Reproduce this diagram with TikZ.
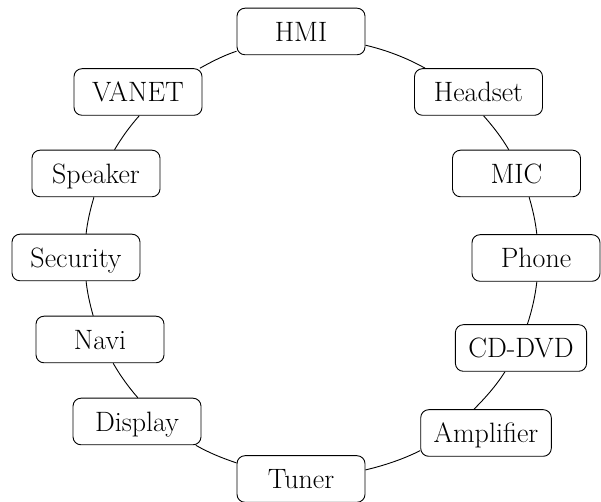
\documentclass[tikz,border=0pt]{standalone}
\begin{document}
\begin{tikzpicture}[x=1pt,y=1pt,
  box/.style={draw, rounded corners=8pt, fill=white, minimum width=128pt,
    minimum height=46.6pt, inner xsep=13pt, inner ysep=0pt,
    text height=19.1pt, text depth=0pt,
    font=\fontsize{28}{34}\selectfont, line width=0.9pt},
  link/.style={line width=0.9pt, looseness=0.85}]
\useasboundingbox (0,0) rectangle (601,502);
% nodes
\node[box] (hmi)      at (301,470.5) {HMI};
\node[box] (headset)  at (478.5,410) {Headset};
\node[box] (mic)      at (516.5,328.5) {MIC};
\node[box] (phone)    at (536,244) {Phone};
\node[box] (cddvd)    at (521,154) {CD-DVD};
\node[box] (amp)      at (486,69) {Amplifier};
\node[box] (tuner)    at (301,23) {Tuner};
\node[box] (display)  at (137,80.5) {Display};
\node[box] (navi)     at (100,162.5) {Navi};
\node[box] (security) at (76,244.5) {Security};
\node[box] (speaker)  at (96,328.5) {Speaker};
\node[box] (vanet)    at (138,410) {VANET};
% connectors around the ring
\draw[link] (hmi.-12) to[out=-13.3, in=150.6] (headset.156.3);
\draw[link] (headset.-78.1) to[out=-48.4, in=120.3] (mic.108.5);
\draw[link] (mic.-62) to[out=-73.3, in=96.2] (phone.88.5);
\draw[link] (phone.-88.8) to[out=-96.5, in=71.5] (cddvd.75.8);
\draw[link] (cddvd.-124.9) to[out=-122.3, in=44.8] (amp.117.4);
\draw[link] (amp.-165.2) to[out=-153.4, in=13.3] (tuner.8.1);
\draw[link] (tuner.166.8) to[out=161.5, in=-30.1] (display.-22.1);
\draw[link] (display.88) to[out=131.1, in=-60.3] (navi.-61.4);
\draw[link] (navi.106.7) to[out=106.1, in=-83.6] (security.-67);
\draw[link] (security.67) to[out=83.6, in=-106.7] (speaker.-95.9);
\draw[link] (speaker.52.5) to[out=59.7, in=-131.6] (vanet.-87.2);
\draw[link] (vanet.21.5) to[out=29.4, in=-161.5] (hmi.-163.1);
\end{tikzpicture}
\end{document}
